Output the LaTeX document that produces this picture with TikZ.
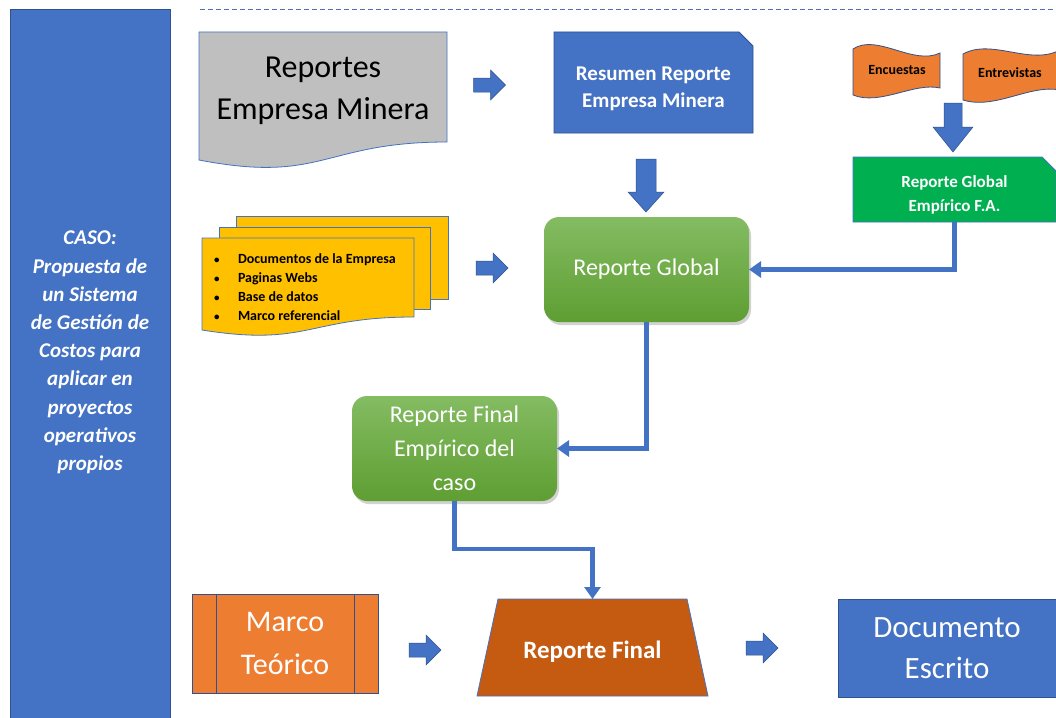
\documentclass[tikz,border=0pt]{standalone}
\usepackage{fontspec}
\setmainfont{Carlito}
\usetikzlibrary{arrows.meta,shadows}

\definecolor{officeblue}{HTML}{4472C4}
\definecolor{edgeblue}{HTML}{2F528F}
\definecolor{docgray}{HTML}{BFBFBF}
\definecolor{flagorange}{HTML}{ED7D31}
\definecolor{brightgreen}{HTML}{00B050}
\definecolor{pageyellow}{HTML}{FFC000}
\definecolor{rust}{HTML}{C55A11}
\definecolor{greentop}{HTML}{84BC62}
\definecolor{greenbot}{HTML}{5E9E32}

\newcommand{\smallbullet}{\makebox[25pt][l]{\hspace{1pt}\fontsize{11}{11}\selectfont\textbullet}}

\tikzset{
  every node/.style={inner sep=0pt, outer sep=0pt, align=center},
  outline/.style={draw=edgeblue, line width=0.8pt},
  thinblue/.style={draw=officeblue, line width=0.8pt},
  blockarrow/.style={fill=officeblue, draw=edgeblue, line width=0.5pt},
  conn/.style={draw=officeblue, line width=4.5pt, -{Triangle[width=16pt,length=12pt]}},
  greenbox/.style={rounded corners=15pt, top color=greentop, bottom color=greenbot,
    minimum width=205pt, minimum height=105pt, text=white,
    drop shadow={opacity=0.35, shadow xshift=2pt, shadow yshift=-3pt}},
  pics/rightblock/.style={code={
    \path[blockarrow] (-16,-7) -- (1,-7) -- (1,-15) -- (16,0) -- (1,15) -- (1,7) -- (-16,7) -- cycle;}},
  pics/downblockA/.style={code={
    \path[blockarrow] (-10,-26.5) -- (10,-26.5) -- (10,6.5) -- (18,6.5) -- (0,26.5) -- (-18,6.5) -- (-10,6.5) -- cycle;}},
  pics/downblockB/.style={code={
    \path[blockarrow] (-9,-24.5) -- (9,-24.5) -- (9,-0.5) -- (20,-0.5) -- (0,24.5) -- (-20,-0.5) -- (-9,-0.5) -- cycle;}},
}

\begin{document}
\begin{tikzpicture}[x=1pt,y=-1pt]
\useasboundingbox (0,0) rectangle (1056,717);
\fill[white] (0,0) rectangle (1056,717);
\begin{scope}
\clip (0,0) rectangle (1056,717);

% side panel with the case title
\path[fill=officeblue, outline] (10,9) rectangle (170,725);
\node[text=white, font=\bfseries\itshape\fontsize{21}{28.2}\selectfont] (caso) at (90,352.5)
  {CASO:\\Propuesta de\\un Sistema\\de Gestión de\\Costos para\\aplicar en\\proyectos\\operativos\\propios};

% dashed rule along the top
\draw[officeblue!85!gray, line width=0.8pt, dash pattern=on 5pt off 3pt] (200,9) -- (1056,9);

% source document: company reports
\path[fill=docgray, thinblue] (199,32) -- (447,32) -- (447,142)
  .. controls (323,142) and (323,184) .. (199,160) -- cycle;
\node[font=\fontsize{32}{42}\selectfont] (rem) at (323,91) {Reportes\\Empresa Minera};

% summary of the company reports
\path[fill=officeblue, outline] (554,32) -- (739,32) -- (753,46) -- (753,133) -- (554,133) -- cycle;
\node[text=white, font=\bfseries\fontsize{21}{27}\selectfont] (resumen) at (653.5,88.5)
  {Resumen Reporte\\Empresa Minera};

% surveys and interviews
\path[fill=flagorange, outline] (853,49) .. controls (877,33) and (913,66) .. (940,53)
  -- (940,88) .. controls (914,82) and (880,106) .. (853,95) -- cycle;
\node[font=\bfseries\fontsize{14}{16}\selectfont] (encuestas) at (897,70) {Encuestas};
\path[fill=flagorange, outline] (963,54) .. controls (992,38) and (1030,66) .. (1060,50)
  -- (1060,90) .. controls (1030,84) and (995,110) .. (963,100) -- cycle;
\node[font=\bfseries\fontsize{14}{16}\selectfont] (entrevistas) at (1010,73) {Entrevistas};

% empirical global report: box outline and its label
\path[fill=brightgreen, thinblue] (853,157) -- (1042,157) -- (1056,171) -- (1056,222) -- (853,222) -- cycle;
\node[minimum width=203pt, minimum height=65pt] (rgemp) at (954.5,189.5) {};
\node[text=white, font=\bfseries\fontsize{17}{24}\selectfont] (rgempLabel) at (954.5,194.5)
  {Reporte Global\\Empírico F.A.};

% stacked documents with the other sources
\path[fill=pageyellow, thinblue] (236,216) rectangle (448,299);
\path[fill=pageyellow, thinblue] (219,227) rectangle (430,309);
\path[fill=pageyellow, thinblue] (202,238) -- (414,238) -- (414,317)
  .. controls (308,317) and (308,347) .. (202,330) -- cycle;
\node[anchor=west, align=left, font=\bfseries\fontsize{14}{19}\selectfont] (fuentes) at (213,287)
  {\smallbullet Documentos de la Empresa\\
   \smallbullet Paginas Webs\\
   \smallbullet Base de datos\\
   \smallbullet Marco referencial};

% global report and final empirical report
\node[greenbox, font=\fontsize{24}{30}\selectfont] (rglobal) at (646.5,269.5) {Reporte Global};
\node[greenbox, font=\fontsize{24}{34}\selectfont] (rfe) at (454.5,448.5) {Reporte Final\\Empírico del\\caso};

% theoretical framework
\node[fill=flagorange, outline, minimum width=186pt, minimum height=99pt, text=white,
  font=\fontsize{30}{43}\selectfont] (marco) at (285,643.5) {Marco\\Teórico};
\draw[edgeblue, line width=0.8pt]
  ([xshift=24pt]marco.north west) -- ([xshift=24pt]marco.south west)
  ([xshift=-24pt]marco.north east) -- ([xshift=-24pt]marco.south east);

% final report: trapezoid and its label
\path[fill=rust, thinblue] (477,696) -- (498,599) -- (687,599) -- (708,696) -- cycle;
\node[minimum width=189pt, minimum height=97pt] (rfinal) at (592.5,647.5) {};
\node[text=white, font=\bfseries\fontsize{25}{28}\selectfont] (rfinalLabel) at (592.5,651.5) {Reporte Final};

% written document
\node[fill=officeblue, outline, minimum width=218pt, minimum height=98pt, text=white,
  font=\fontsize{31}{41}\selectfont] (doc) at (947,648) {Documento\\Escrito};

% block arrows
\pic at (489.5,85) {rightblock};
\pic at (492,268) {rightblock};
\pic at (425,650) {rightblock};
\pic at (762,648) {rightblock};
\pic at (646,185.5) {downblockA};
\pic at (953,127.5) {downblockB};

% connectors
\draw[conn] (rgemp.south) |- (rglobal.east);
\draw[conn] (rglobal.south) |- (rfe.east);
\draw[conn] (rfe.south) -- ++(0,48) -| (rfinal.north);
\end{scope}
\end{tikzpicture}
\end{document}
